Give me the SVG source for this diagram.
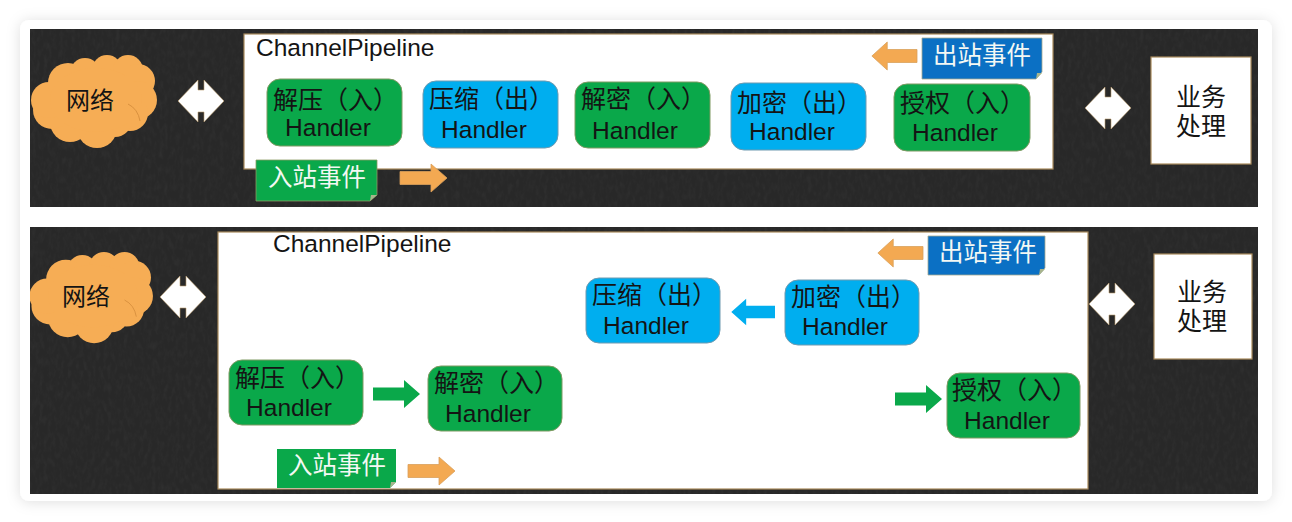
<svg xmlns="http://www.w3.org/2000/svg" width="1292" height="522" viewBox="0 0 1292 522">
  <style>
    .board { fill: #282828; }
    .panel { fill: #ffffff; stroke: #a88a5c; stroke-width: 1.2; }
    .in { fill: #0aa84a; stroke: #7f9a62; stroke-width: 1; }
    .out { fill: #00aeef; stroke: #6f9ab0; stroke-width: 1; }
    .cloud { fill: #f6ad55; }
    .crease { fill: none; stroke: #d9913f; stroke-width: 1; }
    .t { font-family: "Liberation Sans", "Noto Sans CJK SC", sans-serif; fill: #141414; }
    .h { font-size: 24.5px; text-anchor: middle; }
    .c { font-size: 25px; }
    .lbl { font-size: 24.5px; fill: #f4f8f4; }
    .biz { font-size: 25px; text-anchor: middle; }
    .bi { fill: #ffffff; stroke: #b89a6c; stroke-width: 0.6; }
    .orange { fill: #f3a952; stroke: #d9a05a; stroke-width: 0.8; }
    .green { fill: #0aa84a; }
    .blue { fill: #00aeef; }
    .fold { fill: #a8b48c; }
  </style>
  <defs>
    <filter id="shadow" x="-5%" y="-5%" width="110%" height="110%">
      <feDropShadow dx="0" dy="1" stdDeviation="7" flood-color="#000000" flood-opacity="0.13"/>
    </filter>
    <filter id="grain" x="0" y="0" width="100%" height="100%">
      <feTurbulence type="fractalNoise" baseFrequency="0.25 0.12" numOctaves="3" seed="7"/>
      <feColorMatrix values="0 0 0 0 1  0 0 0 0 1  0 0 0 0 1  0.6 0.6 0 0 -0.5"/>
    </filter>
    <clipPath id="lower-board-clip"><rect x="30" y="227" width="1228" height="267"/></clipPath>
    <g id="bi-arrow">
      <polygon class="bi" points="-23,0 -3,-21 -3,-11 3,-11 3,-21 23,0 3,21 3,11 -3,11 -3,21"/>
    </g>
    <polygon id="arrow-right" points="0,-6.5 31,-6.5 31,-14 47,0 31,14 31,6.5 0,6.5"/>
    <g id="cloud-shape">
      <circle class="cloud" cx="55" cy="18" r="15"/>
      <circle class="cloud" cx="77" cy="15" r="15"/>
      <circle class="cloud" cx="98" cy="15" r="15"/>
      <circle class="cloud" cx="108" cy="26" r="17"/>
      <circle class="cloud" cx="108" cy="45" r="19"/>
      <circle class="cloud" cx="100" cy="58" r="18"/>
      <circle class="cloud" cx="85" cy="65" r="17"/>
      <circle class="cloud" cx="67" cy="73" r="20"/>
      <circle class="cloud" cx="40" cy="67" r="20"/>
      <circle class="cloud" cx="22" cy="55" r="19"/>
      <circle class="cloud" cx="19" cy="45" r="18"/>
      <circle class="cloud" cx="38" cy="28" r="20"/>
      <ellipse class="cloud" cx="66" cy="45" rx="46" ry="32"/>
      <path class="crease" d="M98 49 Q108 54 110 66"/>
    </g>
  </defs>

  <rect x="20" y="20" width="1252" height="481" rx="9" fill="#ffffff" filter="url(#shadow)"/>

  <g id="top-board">
    <rect class="board" x="30" y="29" width="1228" height="178"/>
    <rect x="30" y="29" width="1228" height="178" filter="url(#grain)" opacity="0.07"/>
  </g>
  <g id="bottom-board">
    <rect class="board" x="30" y="227" width="1228" height="267"/>
    <rect x="30" y="227" width="1228" height="267" filter="url(#grain)" opacity="0.07"/>
  </g>

  <!-- upper pipeline -->
  <g id="top-network">
    <use href="#cloud-shape" x="30" y="55"/>
    <text class="t" x="66" y="109" font-size="24">网络</text>
  </g>
  <g id="top-pipeline">
    <rect class="panel" x="244" y="34" width="809" height="135"/>
    <text class="t" x="256" y="56" font-size="24.5">ChannelPipeline</text>
  </g>
  <g id="top-unzip">
    <rect class="in" x="267" y="79" width="135" height="67" rx="13"/>
    <text class="t c" x="273" y="109">解压（入）</text>
    <text class="t h" x="328" y="136">Handler</text>
  </g>
  <g id="top-zip">
    <rect class="out" x="423" y="81" width="135" height="67" rx="13"/>
    <text class="t c" x="429" y="108">压缩（出）</text>
    <text class="t h" x="484" y="138">Handler</text>
  </g>
  <g id="top-decrypt">
    <rect class="in" x="575" y="82" width="135" height="66" rx="13"/>
    <text class="t c" x="581" y="108">解密（入）</text>
    <text class="t h" x="635" y="139">Handler</text>
  </g>
  <g id="top-encrypt">
    <rect class="out" x="731" y="83" width="135" height="67" rx="13"/>
    <text class="t c" x="737" y="112">加密（出）</text>
    <text class="t h" x="792" y="140">Handler</text>
  </g>
  <g id="top-auth">
    <rect class="in" x="894" y="84" width="136" height="67" rx="13"/>
    <text class="t c" x="900" y="112">授权（入）</text>
    <text class="t h" x="955" y="141">Handler</text>
  </g>
  <g id="top-inbound">
    <path d="M256 160H377V195L370 201H256Z" fill="#0aa84a" stroke="#8a9a62" stroke-width="0.8"/>
    <path class="fold" d="M370 201L371 195H377Z"/>
    <text class="t lbl" x="268" y="186">入站事件</text>
  </g>
  <g id="top-outbound">
    <path d="M922 38H1042V72L1036 79H922Z" fill="#0b70c4" stroke="#a4a890" stroke-width="0.8"/>
    <path class="fold" d="M1036 79L1037 73H1042Z"/>
    <text class="t lbl" x="933" y="64">出站事件</text>
  </g>
  <g id="top-service">
    <rect class="panel" x="1151" y="57" width="100" height="107"/>
    <text class="t biz" x="1201" y="106">业务</text>
    <text class="t biz" x="1201" y="135">处理</text>
  </g>

  <!-- lower pipeline -->
  <g id="bottom-network">
    <g clip-path="url(#lower-board-clip)">
      <use href="#cloud-shape" transform="translate(28.5 252) scale(0.98)"/>
    </g>
    <text class="t" x="62" y="305" font-size="24">网络</text>
  </g>
  <g id="bottom-pipeline">
    <rect class="panel" x="218" y="232" width="870" height="257"/>
    <text class="t" x="273" y="252" font-size="24.5">ChannelPipeline</text>
  </g>
  <g id="bottom-zip">
    <rect class="out" x="586" y="278" width="134" height="65" rx="13"/>
    <text class="t c" x="592" y="304">压缩（出）</text>
    <text class="t h" x="646" y="334">Handler</text>
  </g>
  <g id="bottom-encrypt">
    <rect class="out" x="785" y="280" width="134" height="65" rx="13"/>
    <text class="t c" x="791" y="306">加密（出）</text>
    <text class="t h" x="845" y="335">Handler</text>
  </g>
  <g id="bottom-unzip">
    <rect class="in" x="229" y="360" width="134" height="65" rx="13"/>
    <text class="t c" x="235" y="387">解压（入）</text>
    <text class="t h" x="289" y="416">Handler</text>
  </g>
  <g id="bottom-decrypt">
    <rect class="in" x="428" y="366" width="134" height="65" rx="13"/>
    <text class="t c" x="434" y="392">解密（入）</text>
    <text class="t h" x="488" y="422">Handler</text>
  </g>
  <g id="bottom-auth">
    <rect class="in" x="947" y="373" width="133" height="65" rx="13"/>
    <text class="t c" x="952" y="399">授权（入）</text>
    <text class="t h" x="1007" y="429">Handler</text>
  </g>
  <g id="bottom-inbound">
    <path d="M277 449H396V482L390 488H277Z" fill="#0aa84a"/>
    <path class="fold" d="M390 488L391 482H396Z"/>
    <text class="t lbl" x="288" y="474">入站事件</text>
  </g>
  <g id="bottom-outbound">
    <path d="M928 236H1045V268L1039 275H928Z" fill="#0b70c4" stroke="#a4a890" stroke-width="0.8"/>
    <path class="fold" d="M1039 275L1040 269H1045Z"/>
    <text class="t lbl" x="939" y="261">出站事件</text>
  </g>
  <g id="bottom-service">
    <rect class="panel" x="1154" y="254" width="98" height="105"/>
    <text class="t biz" x="1202" y="301">业务</text>
    <text class="t biz" x="1202" y="330">处理</text>
  </g>

  <g id="connectors">
    <use href="#bi-arrow" x="201" y="101"/>
    <use href="#bi-arrow" x="1108" y="108"/>
    <use href="#bi-arrow" x="183" y="297"/>
    <use href="#bi-arrow" x="1112" y="304"/>
    <use href="#arrow-right" class="orange" x="400" y="178"/>
    <use href="#arrow-right" class="orange" transform="translate(917 56) scale(-0.96 1)"/>
    <use href="#arrow-right" class="orange" x="408" y="471"/>
    <use href="#arrow-right" class="orange" transform="translate(923 253) scale(-0.96 1)"/>
    <use href="#arrow-right" class="green" x="373" y="394"/>
    <use href="#arrow-right" class="green" x="895" y="399"/>
    <use href="#arrow-right" class="blue" transform="translate(775 312) scale(-0.93 0.95)"/>
  </g>
</svg>
